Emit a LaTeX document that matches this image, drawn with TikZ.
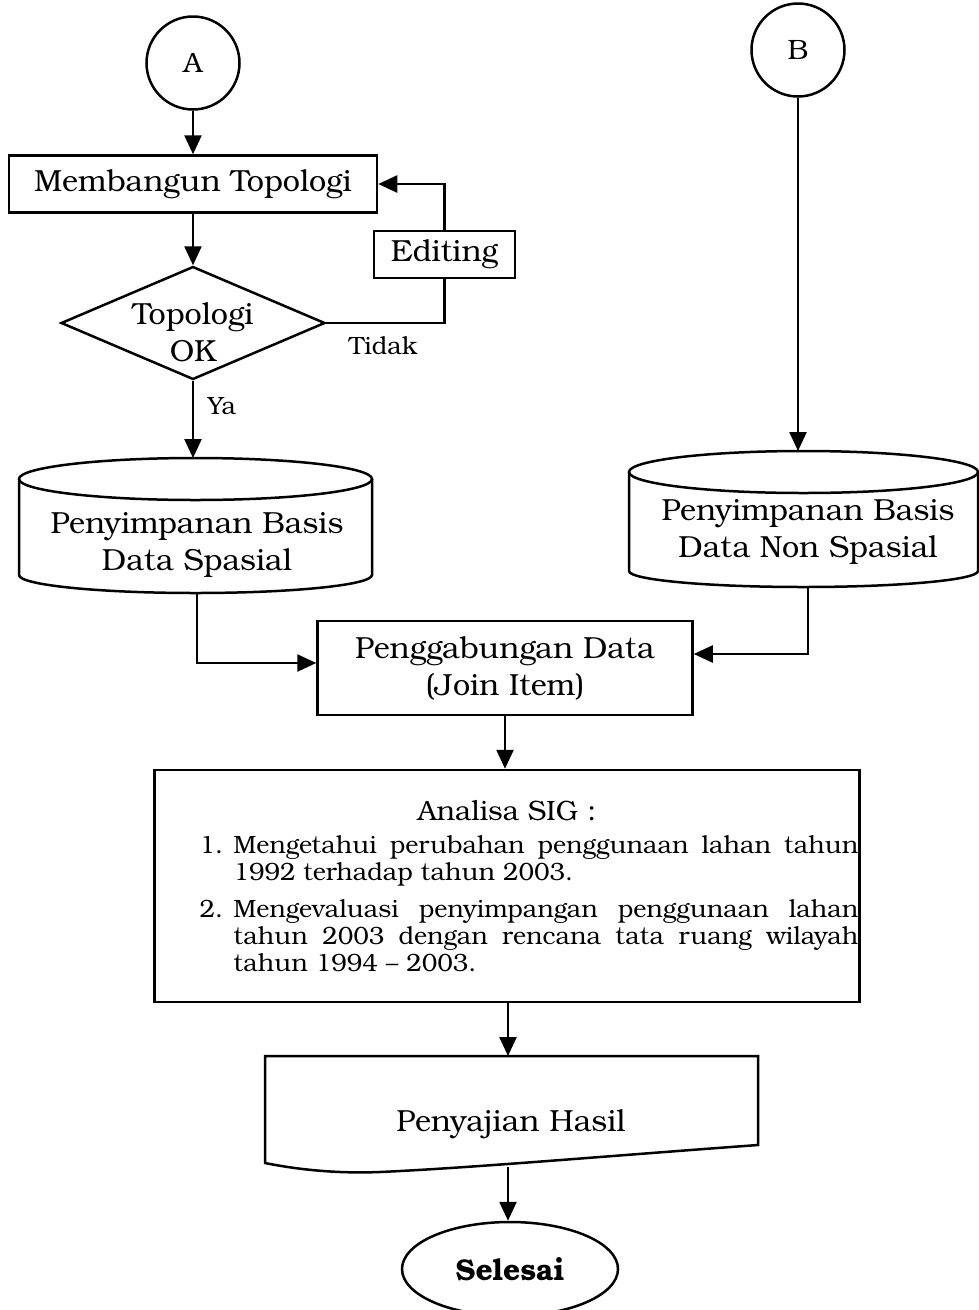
\documentclass[tikz,border=0pt]{standalone}
\usepackage{fontspec}
\setmainfont{TeX Gyre Bonum}
\usetikzlibrary{shapes.geometric,arrows.meta}
\newcommand{\boxfont}{\fontsize{30.5}{37}\selectfont}
\newcommand{\lblfont}{\fontsize{25}{28}\selectfont}
\newcommand{\listfont}{\fontsize{25}{27}\selectfont}

\begin{document}
\begin{tikzpicture}[->, >={Triangle[length=19pt,width=17pt]}, x=1pt, y=1pt, line width=2.5pt,
  proc node/.style={rectangle, draw, font=\boxfont, align=center},
  conn node/.style={circle, draw, minimum size=93pt, font=\fontsize{28}{30}\selectfont},
  decision node/.style={diamond, draw, aspect=2.34, minimum width=264pt, minimum height=113pt, inner xsep=-4pt, inner ysep=-13pt, font=\boxfont, align=center},
  store node/.style={font=\boxfont, align=center},
  end node/.style={ellipse, draw, minimum width=216pt, minimum height=94pt, font=\fontsize{30}{32}\selectfont\bfseries}]
        \tikzstyle{every node}=[font=\lblfont]
        \useasboundingbox (0,0) rectangle (979,-1310);

          \node[conn node] (a) at (193,-63) {A};
          \node[conn node] (b) at (798,-50) {B};
          \node[proc node, minimum width=368pt, minimum height=57pt] (topo) at (193,-184) {Membangun Topologi};
          \node[decision node] (ok) at (193,-323) {\rule{0pt}{40pt}Topologi\\OK};
          \node[proc node, minimum width=141pt, minimum height=47pt] (edit) at (444.5,-254.5) {Editing};
          \node (ya) at (222,-406) {Ya};
          \node (tidak) at (383,-346) {Tidak};

          % tabung basis data
          \node[store node] (spasial) at (197,-545) {Penyimpanan Basis\\Data Spasial};
          \draw[-] (19,-479) -- (19,-575) arc[start angle=180, end angle=360, x radius=176.5, y radius=18] -- (372,-479);
          \draw[-] (195.5,-479) ellipse[x radius=176.5, y radius=21];
          \coordinate (spasialtop) at (193,-458);
          \coordinate (spasialbot) at (197,-593);

          \node[store node] (nonspasial) at (808,-532) {Penyimpanan Basis\\Data Non Spasial};
          \draw[-] (629,-472) -- (629,-571) arc[start angle=180, end angle=360, x radius=174.5, y radius=16] -- (978,-472);
          \draw[-] (803.5,-472) ellipse[x radius=174.5, y radius=21];
          \coordinate (nonspasialtop) at (798,-451);
          \coordinate (nonspasialbot) at (808,-587);

          \node[proc node, minimum width=375pt, minimum height=94pt] (gabung) at (505,-668) {Penggabungan Data\\(Join Item)};

          \node[proc node, minimum width=705pt, minimum height=232pt, inner sep=0pt, text width=703pt, align=justify] (analisa) at (507,-886) {%
            {\centering\fontsize{28}{30}\selectfont Analisa SIG :\par}
            \vspace{-4pt}
            \listfont\tolerance=10000\hbadness=10000\hyphenpenalty=10000\leftskip=44pt\parskip=10pt
            \hangindent=34pt\hangafter=1\noindent\makebox[34pt][l]{1.}Mengetahui perubahan penggunaan lahan tahun\linebreak 1992 terhadap tahun 2003.\par
            \hangindent=34pt\hangafter=1\noindent\makebox[34pt][l]{2.}Mengevaluasi penyimpangan penggunaan lahan\linebreak tahun 2003 dengan rencana tata ruang wilayah\linebreak tahun 1994 -- 2003.\par
            \vspace{24pt}};

          % dokumen hasil
          \node[store node] (hasil) at (511,-1124) {Penyajian Hasil};
          \draw[-] (265,-1056) -- (758,-1056) -- (758,-1145) .. controls (620,-1155) and (470,-1168) .. (380,-1172) .. controls (330,-1174) and (290,-1168) .. (265,-1163) -- cycle;
          \coordinate (hasiltop) at (508,-1056);
          \coordinate (hasilbot) at (508,-1167);

          \node[end node] (selesai) at (510,-1269) {Selesai};

          \draw (a) -- (topo);
          \draw (topo) -- (ok);
          \draw (ok) -- (spasialtop);
          \draw[-] (ok.east) -| (edit.south);
          \draw (edit.north) |- (topo.east);
          \draw (b) -- (b |- nonspasialtop);
          \draw (spasialbot) |- ([yshift=5pt]gabung.west);
          \draw (nonspasialbot) |- ([yshift=14pt]gabung.east);
          \draw (gabung.south) -- (gabung.south |- analisa.north);
          \draw (analisa.south -| hasiltop) -- (hasiltop);
          \draw (hasilbot) -- (selesai.north -| hasilbot);

        \end{tikzpicture}
\end{document}
